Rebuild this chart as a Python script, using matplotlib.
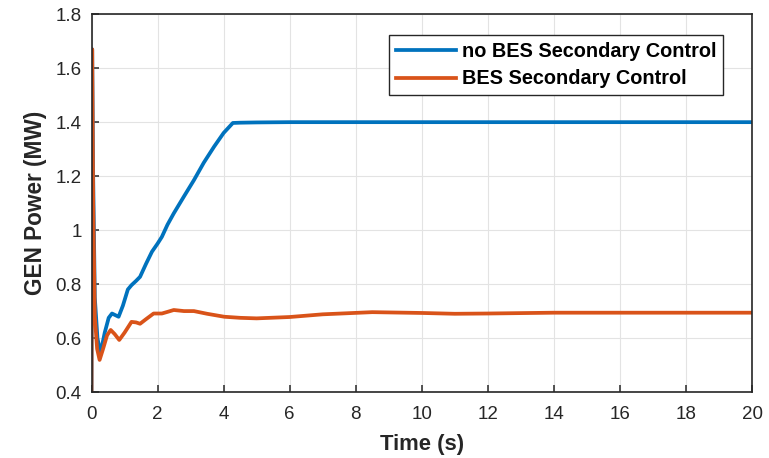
import matplotlib
matplotlib.use("Agg")
import matplotlib.pyplot as plt

plt.rcParams['font.family'] = ['Liberation Sans', 'DejaVu Sans']

# series: no BES secondary control
t_no = [0, 0.02, 0.05, 0.1, 0.18, 0.27, 0.4, 0.52, 0.62, 0.72, 0.82, 0.95, 1.1,
        1.21, 1.35, 1.47, 1.65, 1.83, 2.0, 2.13, 2.3, 2.49, 2.8, 3.1, 3.4, 3.71,
        4.0, 4.28, 4.5, 5, 6, 10, 20]
p_no = [0.4, 1.67, 1.2, 0.75, 0.6, 0.543, 0.62, 0.675, 0.691, 0.685, 0.679, 0.72,
        0.78, 0.796, 0.812, 0.827, 0.875, 0.92, 0.95, 0.975, 1.02, 1.062, 1.125,
        1.185, 1.25, 1.309, 1.36, 1.397, 1.398, 1.399, 1.4, 1.4, 1.4]

# series: BES secondary control
t_bes = [0, 0.02, 0.05, 0.1, 0.17, 0.245, 0.35, 0.47, 0.58, 0.7, 0.84, 1.0, 1.21,
         1.35, 1.47, 1.65, 1.88, 2.13, 2.3, 2.49, 2.8, 3.1, 3.5, 4.02, 4.5, 5.0,
         6.0, 7.0, 8.5, 10, 11, 12, 14, 16, 20]
p_bes = [0.4, 1.67, 1.1, 0.68, 0.56, 0.519, 0.56, 0.61, 0.63, 0.615, 0.593, 0.62,
         0.66, 0.658, 0.653, 0.67, 0.691, 0.691, 0.697, 0.704, 0.70, 0.70, 0.69,
         0.679, 0.675, 0.673, 0.678, 0.688, 0.696, 0.693, 0.690, 0.691, 0.694,
         0.694, 0.694]

labels = ["no BES Secondary Control", "BES Secondary Control"]
xticks = list(range(0, 21, 2))
yticks = [0.4, 0.6, 0.8, 1.0, 1.2, 1.4, 1.6, 1.8]
ytick_labels = ["0.4", "0.6", "0.8", "1", "1.2", "1.4", "1.6", "1.8"]

fig = plt.figure(figsize=(7.69, 4.58), dpi=100)
ax = fig.add_axes([0.119, 0.144, 0.859, 0.825])

ax.plot(t_no, p_no, color="#0072BD", lw=2.7, label=labels[0])
ax.plot(t_bes, p_bes, color="#D95319", lw=2.7, label=labels[1])

ax.set_xlim(0, 20)
ax.set_ylim(0.4, 1.8)
ax.set_xticks(xticks)
ax.set_yticks(yticks)
ax.set_yticklabels(ytick_labels)
ax.tick_params(direction="in", length=5, width=1.1, colors="#262626",
               labelsize=13.5, labelcolor="#262626")
ax.tick_params(axis="y", pad=7)
ax.tick_params(axis="x", pad=10)
ax.grid(True, color="#e3e3e3", lw=0.8)
ax.set_axisbelow(True)
for s in ax.spines.values():
    s.set_color("#262626")
    s.set_linewidth(1.2)

ax.set_xlabel("Time (s)", fontsize=15.8, fontweight="bold", color="#262626", labelpad=8)
ax.set_ylabel("GEN Power (MW)", fontsize=16.3, fontweight="bold", color="#262626", labelpad=6)

leg = ax.legend(loc="upper right", bbox_to_anchor=(0.956, 0.946), frameon=True,
                fancybox=False, edgecolor="#262626", framealpha=1,
                prop={"weight": "bold", "size": 14.3}, handlelength=3.0,
                borderpad=0.35, labelspacing=0.45, handletextpad=0.3,
                borderaxespad=0)
leg.get_frame().set_linewidth(1.0)

fig.savefig("out.png", dpi=100)
